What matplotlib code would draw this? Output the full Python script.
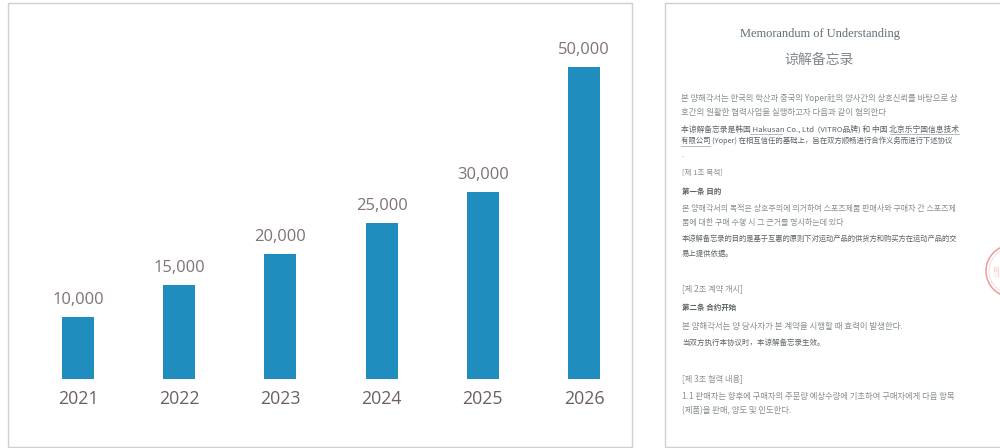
import matplotlib
matplotlib.use('Agg')
import matplotlib.pyplot as plt
from matplotlib.patches import Circle, Rectangle

W, H = 1000, 448

years = ['2021', '2022', '2023', '2024', '2025', '2026']
amounts = [10000, 15000, 20000, 25000, 30000, 50000]

bar_color = '#1f8dbd'
value_color = '#7f7374'
year_color = '#6b605e'
text_color = '#868d90'

fig = plt.figure(figsize=(W / 100, H / 100), dpi=100, facecolor='white')

# page layer, in pixels with y pointing down
page = fig.add_axes([0, 0, 1, 1])
page.set_xlim(0, W)
page.set_ylim(H, 0)
page.axis('off')
for x0, x1 in [(8, 632), (664.5, 1010)]:
    page.add_patch(Rectangle((x0, 3), x1 - x0, 444, fc='white', ec='#cfcfcf', lw=1))

# bar chart: bars 0..5 run 78..584 px, baseline at y=379, 50000 is 312 px tall
ax = fig.add_axes([(78 - 0.5 * 101.2) / W, (H - 379) / H, 6 * 101.2 / W, 0.9 * 347 / H])
ax.set_facecolor('none')
ax.set_xlim(-0.5, 5.5)
ax.set_ylim(0, 50000 * 0.9 * 347 / 312)
pos = list(range(len(years)))
ax.bar(pos, amounts, width=0.316, color=bar_color)
for p, v in zip(pos, amounts):
    ax.annotate(f'{v:,}', (p, v), xytext=(0, 9), textcoords='offset pixels', ha='center', va='bottom',
                family='Open Sans', fontsize=11.9, color=value_color)
ax.set_xticks(pos, years, family='Open Sans', fontsize=12.8, color=year_color)
ax.tick_params(axis='x', length=0, pad=8)
ax.set_yticks([])
for s in ax.spines.values():
    s.set_visible(False)

# memorandum text: (left x, centre y, text, font, size, weight)
KR = 'Noto Sans CJK KR'
SC = 'Noto Sans CJK SC'
doc_lines = [
    (681, 98, '본 양해각서는 한국의 학산과 중국의 Yoper社의 양사간의 상호신뢰를 바탕으로 상', KR, 6.0, 'normal'),
    (681, 112, '호간의 원활한 협력사업을 실행하고자 다음과 같이 협의한다', KR, 6.1, 'normal'),
    (681, 129, '本谅解备忘录是韩国 Hakusan Co., Ltd  (VITRO品牌) 和 中国 北京乐宁国信息技术', SC, 5.6, 'medium'),
    (681, 141, '有限公司 (Yoper) 在相互信任的基础上，旨在双方顺畅进行合作义务而进行下述协议', SC, 5.35, 'medium'),
    (681, 155, '.', SC, 5.6, 'normal'),
    (682, 173, '[제 1조 목적]', KR, 5.5, 'normal'),
    (682, 191, '第一条 目的', SC, 5.4, 'bold'),
    (682, 209, '본 양해각서의 목적은 상호주의에 의거하여 스포츠제품 판매사와 구매자 간 스포츠제', KR, 5.8, 'normal'),
    (682, 222, '품에 대한 구매 수행 시 그 근거를 명시하는데 있다', KR, 5.8, 'normal'),
    (682, 239, '本谅解备忘录的目的是基于互惠的原则下对运动产品的供货方和购买方在运动产品的交', SC, 5.25, 'medium'),
    (682, 254, '易上提供依据。', SC, 5.3, 'medium'),
    (682, 289, '[제 2조 계약 개시]', KR, 5.9, 'normal'),
    (682, 307, '第二条 合约开始', SC, 5.4, 'bold'),
    (682, 326, '본 양해각서는 양 당사자가 본 계약을 시행할 때 효력이 발생한다.', KR, 6.1, 'normal'),
    (682, 343, '当双方执行本协议时，本谅解备忘录生效。', SC, 5.4, 'medium'),
    (682, 379, '[제 3조 협력 내용]', KR, 5.9, 'normal'),
    (682, 397, '1.1 판매자는 향후에 구매자의 주문량 예상수량에 기초하여 구매자에게 다음 항목', KR, 6.0, 'normal'),
    (682, 411, '(제품)을 판매, 양도 및 인도한다.', KR, 6.0, 'normal'),
]
page.text(819.5, 34, 'Memorandum of Understanding', family='Liberation Serif', fontsize=8.9,
          color='#5f6e72', ha='center', va='center')
page.text(819.5, 60, '谅解备忘录', family=SC, fontsize=10, color='#81878a', ha='center', va='center')
for x, y, s, font, size, weight in doc_lines:
    col = '#5b6265' if weight != 'normal' else text_color
    page.text(x, y, s, family=[font, 'DejaVu Sans'], fontsize=size, weight=weight, color=col, va='center')

# underlined names in the second paragraph
for x0, x1, y in [(750, 782, 134), (890, 959, 134), (681, 710, 146)]:
    page.plot([x0, x1], [y, y], color='#9aa0a3', lw=0.5)

# seal cut off by the page edge
page.add_patch(Circle((1012, 271), 26, fc='none', ec='#ee9a9a', lw=1.1))
page.add_patch(Circle((1012, 271), 23, fc='none', ec='#f8d4d4', lw=0.6))
page.text(993, 271, '公司', family=SC, fontsize=4.5, color='#f6c6c6', va='center', rotation=90)

fig.savefig('out.png', dpi=100)
